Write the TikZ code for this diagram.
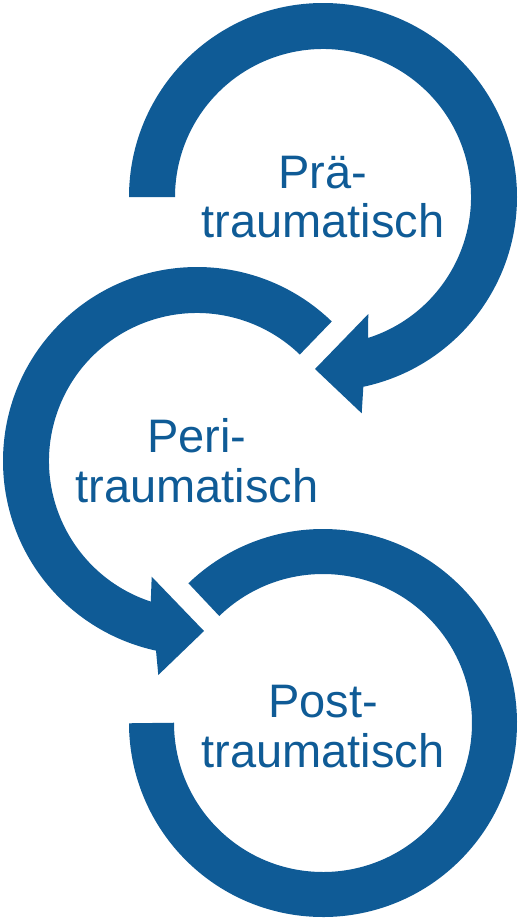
\documentclass[tikz,border=0pt]{standalone}
\usepackage{fontspec}
\setmainfont{Liberation Sans}
\definecolor{arrowblue}{RGB}{15,91,150}
\begin{document}
\begin{tikzpicture}[x=1pt,y=1pt,
  ring/.style={draw=arrowblue,line width=45pt,line cap=butt},
  arrowfill/.style={fill=arrowblue},
  label/.style={anchor=base,inner sep=0pt,text=arrowblue,font=\fontsize{47}{49}\selectfont}]
\useasboundingbox (0,0) rectangle (519,-922);
\coordinate (c1) at (323,-197);
\coordinate (c2) at (197,-461);
\coordinate (c3) at (323,-723);
% arrowhead corners
\coordinate (h1a) at (368.3,-314);
\coordinate (h1t) at (315,-369);
\coordinate (h1b) at (361.7,-413.3);
\coordinate (h2a) at (151.7,-576.7);
\coordinate (h2t) at (204,-631);
\coordinate (h2b) at (158.3,-675);
% top arrow (clockwise)
\fill[arrowfill] ([shift={(180:194)}]c1) arc[start angle=180,end angle=-78,radius=194]
  -- (h1b) -- (h1t) -- (h1a)
  -- ([shift={(-72.3:148)}]c1) arc[start angle=-72.3,end angle=180,radius=148] -- cycle;
% middle arrow (counter-clockwise)
\fill[arrowfill] ([shift={(46:194)}]c2) arc[start angle=46,end angle=257.8,radius=194]
  -- (h2b) -- (h2t) -- (h2a)
  -- ([shift={(251.8:148)}]c2) arc[start angle=251.8,end angle=46,radius=148] -- cycle;
% bottom ring
\draw[ring] ([shift={(134:171.5)}]c3) arc[start angle=134,end angle=-180,radius=171.5];
% labels
\node[label] (pre1) at (323,-188) {Prä-};
\node[label] (pre2) at (323,-237) {traumatisch};
\node[label] (peri1) at (197,-452) {Peri-};
\node[label] (peri2) at (197,-502) {traumatisch};
\node[label] (post1) at (323,-717) {Post-};
\node[label] (post2) at (323,-767) {traumatisch};
\end{tikzpicture}
\end{document}
